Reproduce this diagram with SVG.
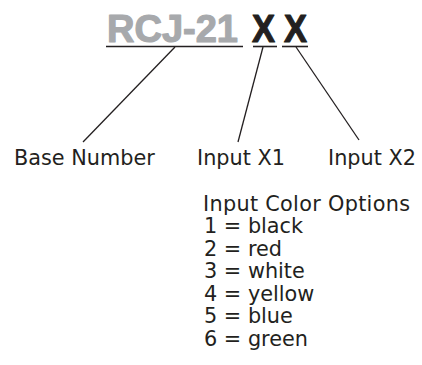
<svg xmlns="http://www.w3.org/2000/svg" width="422" height="365" viewBox="0 0 422 365">
<style>
.title{font-family:"Liberation Sans",Arial,sans-serif;font-weight:bold;font-size:39px;stroke-width:1.2;stroke-linejoin:round}
.lbl{font-family:"DejaVu Sans",Verdana,sans-serif;font-size:20.8px;fill:#231f20}
.ul{stroke:#231f20;stroke-width:1.6;fill:none}
.conn{stroke:#231f20;stroke-width:1.3;fill:none}
</style>
<rect width="422" height="365" fill="#fff"/>
<g id="part-number">
<text class="title" x="107" y="42" textLength="131" lengthAdjust="spacingAndGlyphs" fill="#a7a9ac" stroke="#a7a9ac">RCJ-21</text>
<text class="title" x="252" y="42" textLength="23" lengthAdjust="spacingAndGlyphs" fill="#231f20" stroke="#231f20">X</text>
<text class="title" x="284" y="42" textLength="23" lengthAdjust="spacingAndGlyphs" fill="#231f20" stroke="#231f20">X</text>
<line class="ul" x1="106" y1="46.5" x2="243" y2="46.5"/>
<line class="ul" x1="253" y1="46.5" x2="277" y2="46.5"/>
<line class="ul" x1="282" y1="46.5" x2="308" y2="46.5"/>
</g>
<g id="connectors">
<line class="conn" x1="175" y1="47" x2="83" y2="142"/>
<line class="conn" x1="263" y1="47" x2="238" y2="142"/>
<line class="conn" x1="296" y1="47" x2="359" y2="140"/>
</g>
<g id="base-number"><text class="lbl" x="14" y="165">Base Number</text></g>
<g id="input-x1"><text class="lbl" x="197" y="165">Input X1</text></g>
<g id="input-x2"><text class="lbl" x="328" y="165">Input X2</text></g>
<g id="color-options">
<text class="lbl" x="203" y="210.5" textLength="207">Input Color Options</text>
<text class="lbl" x="204" y="233">1 = black</text>
<text class="lbl" x="204" y="255.5">2 = red</text>
<text class="lbl" x="204" y="278">3 = white</text>
<text class="lbl" x="204" y="300.5">4 = yellow</text>
<text class="lbl" x="204" y="323">5 = blue</text>
<text class="lbl" x="204" y="345.5">6 = green</text>
</g>
</svg>
